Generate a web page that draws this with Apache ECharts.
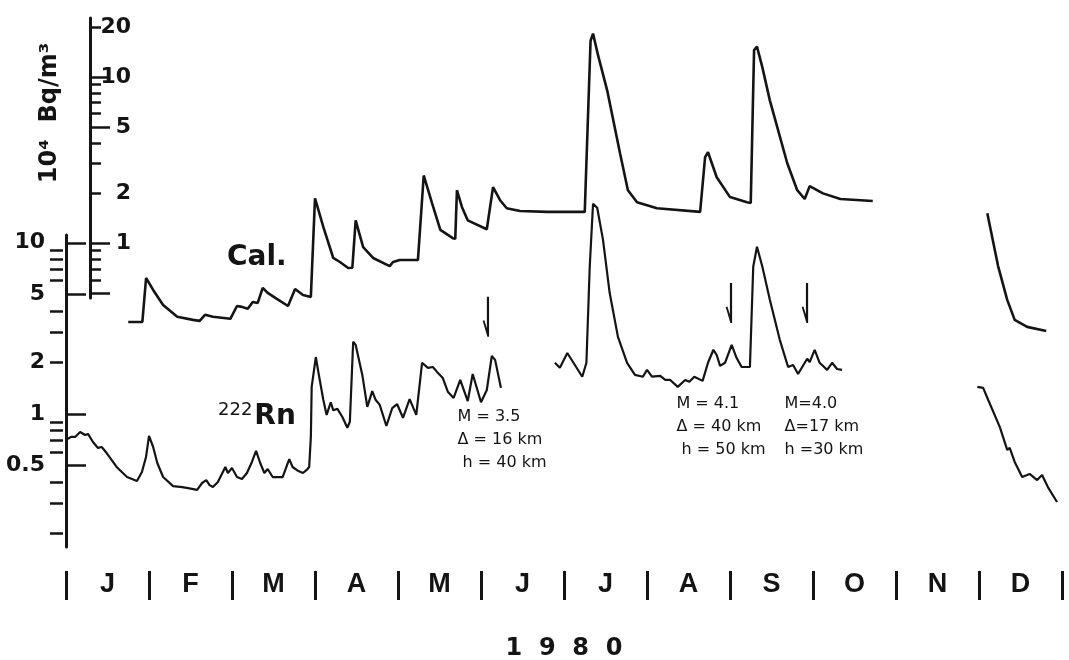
<!DOCTYPE html>
<html>
<head>
<meta charset="utf-8">
<title>Cal. and 222Rn, 1980</title>
<script src="https://cdn.jsdelivr.net/npm/echarts@6/dist/echarts.min.js"></script>
<style>
  html, body { margin: 0; padding: 0; background: #fff; }
  #chart { width: 1069px; height: 660px; }
</style>
</head>
<body>
<div id="chart"></div>
<script>
  // time is counted in months from 1 Jan 1980 (the months are drawn equally wide)
  var months = ['J', 'F', 'M', 'A', 'M', 'J', 'J', 'A', 'S', 'O', 'N', 'D'];
  var monthEdges = [0, 1, 2, 3, 4, 5, 6, 7, 8, 9, 10, 11, 12];
  var monthMids = [0.5, 1.5, 2.5, 3.5, 4.5, 5.5, 6.5, 7.5, 8.5, 9.5, 10.5, 11.5];

  // upper curve "Cal.", 10^4 Bq/m3 (right-hand scale); null = gap in the record
  var calT = [0.75, 0.92, 0.965, 1.05, 1.17, 1.34, 1.53, 1.61, 1.675, 1.77, 1.98, 2.06, 2.12, 2.19, 2.25, 2.31,
    2.37, 2.43, 2.54, 2.675, 2.76, 2.855, 2.95, 3.0, 3.1, 3.22, 3.3, 3.4, 3.45, 3.49, 3.58, 3.7, 3.9, 3.94,
    4.02, 4.24, 4.31, 4.41, 4.51, 4.66, 4.69, 4.71, 4.77, 4.84, 5.07, 5.145, 5.23, 5.31, 5.47, 5.8, 6.25,
    6.32, 6.35, 6.41, 6.52, 6.675, 6.77, 6.88, 7.12, 7.64, 7.7, 7.735, 7.84, 8.0, 8.205, 8.25, 8.29, 8.325,
    8.39, 8.48, 8.69, 8.81, 8.9, 8.96, 9.12, 9.33, 9.72, 10.4, 11.1, 11.23, 11.34, 11.43, 11.58, 11.81];
  var calV = [0.335, 0.335, 0.616, 0.522, 0.424, 0.36, 0.345, 0.34, 0.37, 0.36, 0.35, 0.418, 0.413, 0.402, 0.442, 0.436,
    0.537, 0.501, 0.461, 0.418, 0.529, 0.487, 0.474, 1.86, 1.25, 0.813, 0.769, 0.708, 0.71, 1.37, 0.946, 0.813, 0.727, 0.769,
    0.79, 0.79, 2.55, 1.74, 1.2, 1.07, 1.06, 2.08, 1.65, 1.37, 1.21, 2.17, 1.81, 1.62, 1.56, 1.54, 1.54,
    16.5, 18.2, 13.5, 8.3, 3.47, 2.08, 1.76, 1.62, 1.54, 3.29, 3.52, 2.49, 1.89, 1.76, 1.74, 14.5, 15.2,
    11.4, 7.22, 3.02, 2.08, 1.84, 2.2, 1.99, 1.84, 1.79, null, 1.51, 0.727, 0.455, 0.345, 0.313, 0.296];

  // lower curve "222Rn" (left-hand scale)
  var rnT = [0, 0.06, 0.11, 0.17, 0.23, 0.265, 0.325, 0.385, 0.43, 0.49, 0.61, 0.735, 0.855, 0.915, 0.964, 1.0,
    1.05, 1.1, 1.17, 1.29, 1.4, 1.47, 1.58, 1.64, 1.69, 1.73, 1.77, 1.83, 1.92, 1.95, 2.0, 2.06, 2.12, 2.18,
    2.24, 2.29, 2.34, 2.39, 2.43, 2.49, 2.61, 2.69, 2.73, 2.8, 2.855, 2.9, 2.93, 2.95, 2.96, 3.01, 3.04, 3.1,
    3.14, 3.19, 3.22, 3.27, 3.33, 3.39, 3.42, 3.46, 3.49, 3.57, 3.63, 3.69, 3.73, 3.78, 3.86, 3.93, 3.99,
    4.06, 4.14, 4.22, 4.29, 4.36, 4.42, 4.47, 4.54, 4.6, 4.67, 4.75, 4.84, 4.9, 5.0, 5.07, 5.13, 5.17, 5.24,
    5.5, 5.89, 5.95, 6.04, 6.22, 6.27, 6.31, 6.35, 6.4, 6.47, 6.55, 6.65, 6.76, 6.855, 6.95, 7.0, 7.06, 7.16,
    7.22, 7.28, 7.37, 7.46, 7.51, 7.57, 7.67, 7.735, 7.8, 7.84, 7.88, 7.94, 8.02, 8.08, 8.14, 8.24, 8.28,
    8.325, 8.39, 8.48, 8.6, 8.7, 8.76, 8.82, 8.93, 8.96, 9.02, 9.08, 9.17, 9.23, 9.29, 9.35, 10.0, 10.98,
    11.05, 11.11, 11.25, 11.34, 11.37, 11.43, 11.52, 11.61, 11.7, 11.76, 11.83, 11.94];
  var rnV = [0.705, 0.734, 0.734, 0.785, 0.754, 0.764, 0.686, 0.633, 0.641, 0.591, 0.49, 0.428, 0.406, 0.458, 0.56, 0.744,
    0.641, 0.517, 0.428, 0.379, 0.374, 0.369, 0.36, 0.395, 0.411, 0.384, 0.374, 0.4, 0.49, 0.452, 0.483, 0.428, 0.417, 0.452,
    0.524, 0.608, 0.517, 0.452, 0.477, 0.428, 0.428, 0.545, 0.49, 0.464, 0.452, 0.471, 0.49, 0.734, 1.44, 2.15, 1.76, 1.21,
    0.987, 1.17, 1.05, 1.07, 0.96, 0.83, 0.9, 2.64, 2.53, 1.69, 1.1, 1.36, 1.21, 1.13, 0.85, 1.08, 1.14,
    0.95, 1.22, 0.987, 1.99, 1.86, 1.88, 1.76, 1.62, 1.35, 1.24, 1.58, 1.19, 1.71, 1.17, 1.38, 2.18, 2.07, 1.42,
    null, 1.99, 1.86, 2.27, 1.65, 1.99, 7.24, 16.9, 16.0, 10.4, 5.1, 2.82, 1.99, 1.69, 1.65, 1.81, 1.65, 1.67,
    1.58, 1.58, 1.44, 1.58, 1.54, 1.65, 1.56, 1.99, 2.37, 2.21, 1.91, 1.99, 2.53, 2.12, 1.88, 1.88, 7.24,
    9.48, 7.24, 4.64, 2.71, 1.88, 1.93, 1.71, 2.1, 2.01, 2.37, 1.99, 1.81, 1.99, 1.83, 1.81, null, 1.44,
    1.42, 1.21, 0.84, 0.616, 0.633, 0.524, 0.428, 0.446, 0.411, 0.44, 0.374, 0.306];

  // earthquakes marked with arrows
  var quakeT = [5.084, 8.012, 8.928];
  var quakeNotes = [
    ['M = 3.5', '\u0394 = 16 km', ' h = 40 km'],
    ['M = 4.1', '\u0394 = 40 km', ' h = 50 km'],
    ['M=4.0', '\u0394=17 km', 'h =30 km']
  ];

  var ink = '#141414';
  var font = 'DejaVu Sans';

  function pairs(t, v) {
    return t.map(function (x, i) { return [x, v[i]]; });
  }

  var arrowTip = [2.82, 3.4, 3.4];
  var noteAt = [[4.723, 1.121], [7.361, 1.336], [8.663, 1.336]];

  var marks = quakeT.map(function (t, i) {
    return { coord: [t, arrowTip[i]] };
  }).concat(quakeNotes.map(function (lines, i) {
    return {
      coord: noteAt[i],
      symbol: 'circle',
      symbolSize: 1,
      symbolOffset: [0, 0],
      itemStyle: { color: 'rgba(0,0,0,0)' },
      label: {
        show: true, position: [0, 0], align: 'left', verticalAlign: 'top',
        formatter: lines.join('\n'), lineHeight: 23, fontSize: 16,
        fontFamily: font, color: ink
      }
    };
  }));

  function logAxis(grid, min, max, offset, extra) {
    var axis = {
      gridIndex: grid, type: 'log', position: 'left', min: min, max: max, offset: offset,
      axisLine: { show: false },
      axisLabel: { show: false },
      splitLine: { show: false }
    };
    for (var k in extra) axis[k] = extra[k];
    return axis;
  }

  var chart = echarts.init(document.getElementById('chart'));

  var option = {
    animation: false,
    backgroundColor: '#fff',
    grid: [
      { left: 66, right: 7, top: 18, bottom: 362, outerBoundsMode: 'none' },
      { left: 66, right: 7, top: 235, bottom: 113, outerBoundsMode: 'none' }
    ],
    xAxis: [
      { gridIndex: 0, type: 'value', min: 0, max: 12, show: false },
      {
        gridIndex: 1, type: 'value', min: 0, max: 12, offset: 24,
        axisLine: { show: false },
        axisTick: { show: true, customValues: monthEdges, length: 29, lineStyle: { color: ink, width: 3 } },
        axisLabel: {
          customValues: monthMids, margin: 14, verticalAlign: 'middle',
          fontSize: 27, fontWeight: 'bold', fontFamily: 'Liberation Sans', color: ink,
          formatter: function (v) { return months[Math.floor(v)]; }
        },
        splitLine: { show: false },
        name: '1  9  8  0', nameLocation: 'middle', nameGap: 66,
        nameTextStyle: { fontSize: 24, fontWeight: 'bold', fontFamily: font, color: ink }
      }
    ],
    yAxis: [
      // Cal. scale, long ticks and labels
      logAxis(0, 0.467, 22.6, -24, {
        axisLine: { show: true, lineStyle: { color: ink, width: 3 } },
        axisTick: { show: true, inside: true, length: 20, customValues: [0.5, 1, 5, 10], lineStyle: { color: ink, width: 2.5 } },
        axisLabel: {
          inside: true, customValues: [1, 2, 5, 10, 20], align: 'right', margin: 41,
          fontSize: 22, fontWeight: 'bold', fontFamily: font, color: ink
        }
      }),
      // 222Rn scale, long ticks and labels
      logAxis(1, 0.167, 11.1, 16, {
        axisLine: { show: true, lineStyle: { color: ink, width: 3 } },
        axisTick: { show: true, inside: true, length: 20, customValues: [0.5, 1, 5, 10], lineStyle: { color: ink, width: 2.5 } },
        axisLabel: {
          customValues: [0.5, 1, 2, 5, 10], margin: 5,
          fontSize: 22, fontWeight: 'bold', fontFamily: font, color: ink,
          formatter: function (v) { return String(v); }
        }
      }),
      // short ticks
      logAxis(0, 0.467, 22.6, -24, {
        axisTick: { show: true, inside: true, length: 11, customValues: [0.6, 0.7, 0.8, 0.9, 2, 3, 4, 6, 7, 8, 9, 20], lineStyle: { color: ink, width: 2.5 } }
      }),
      logAxis(1, 0.167, 11.1, 16, {
        axisTick: { show: true, inside: true, length: 13, customValues: [0.2, 0.3, 0.4, 0.6, 0.7, 0.8, 0.9, 2, 3, 4, 6, 7, 8, 9], lineStyle: { color: ink, width: 2.5 } }
      })
    ],
    graphic: [
      {
        type: 'text', x: 50, y: 113, rotation: Math.PI / 2,
        style: { text: '10\u2074  Bq/m\u00b3', font: 'bold 24px "DejaVu Sans"', fill: ink, align: 'center', verticalAlign: 'middle' }
      },
      {
        type: 'text', x: 227, y: 258,
        style: { text: 'Cal.', font: 'bold 28px "DejaVu Sans"', fill: ink, align: 'left', verticalAlign: 'middle' }
      },
      {
        type: 'text', x: 218, y: 417,
        style: {
          text: '{s|222}{b|Rn}', align: 'left', verticalAlign: 'middle', fill: ink,
          rich: {
            s: { fontSize: 18, fontFamily: font, fill: ink, padding: [0, 2, 14, 0] },
            b: { fontSize: 28, fontFamily: font, fontWeight: 'bold', fill: ink }
          }
        }
      }
    ],
    series: [
      {
        name: 'Cal.', type: 'line', xAxisIndex: 0, yAxisIndex: 0,
        data: pairs(calT, calV), symbol: 'none', clip: false, silent: true,
        lineStyle: { color: ink, width: 2.6 }
      },
      {
        name: '222Rn', type: 'line', xAxisIndex: 1, yAxisIndex: 1,
        data: pairs(rnT, rnV), symbol: 'none', clip: false, silent: true,
        lineStyle: { color: ink, width: 2.2 },
        markPoint: {
          silent: true,
          // down arrow with a one-sided head, drawn as a filled outline
          symbol: 'path://M4.2,0 L6.4,0 L6.4,40 L4.7,40 L0,24 L1.7,23.5 L4.2,31.5 Z',
          symbolSize: [6.4, 40],
          symbolOffset: [-2.1, '-50%'],
          itemStyle: { color: ink },
          label: { show: false },
          data: marks
        }
      }
    ]
  };

  chart.setOption(option);
</script>
</body>
</html>
